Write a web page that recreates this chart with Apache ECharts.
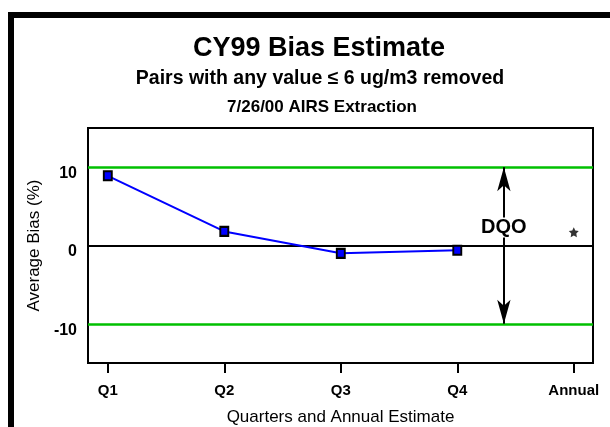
<!DOCTYPE html>
<html>
<head>
<meta charset="utf-8">
<script src="https://cdn.jsdelivr.net/npm/echarts@6/dist/echarts.min.js"></script>
<style>
html,body{margin:0;padding:0;background:#fff;}
#chart{width:610px;height:427px;}
</style>
</head>
<body>
<div id="chart"></div>
<script>
// ---- data ----
var categories = ['Q1', 'Q2', 'Q3', 'Q4', 'Annual'];
var quarterBias = [8.9, 1.8, -1.0, -0.6];
var annualBias = [1.7];
var yTickValues = [-10, 0, 10];
var dqoLimits = [10, -10];
var dqoArrowX = 4.4;
var titleLines = ['CY99 Bias Estimate', 'Pairs with any value \u2264 6 ug/m3 removed', '7/26/00 AIRS Extraction'];

var FONT = '"Liberation Sans", Arial, sans-serif';
var xVals = categories.map(function (c, i) { return i + 1; });
var quarterData = quarterBias.map(function (v, i) { return [xVals[i], v]; });
var annualData = annualBias.map(function (v) { return [xVals[4], v]; });

var chart = echarts.init(document.getElementById('chart'), null, { renderer: 'canvas' });
var star = 'path://M0,-10 L2.9,-4 9.5,-3.1 4.8,1.5 5.9,8.1 0,5 -5.9,8.1 -4.8,1.5 -9.5,-3.1 -2.9,-4 Z';

chart.setOption({
  animation: false,
  backgroundColor: '#fff',
  textStyle: { fontFamily: FONT },
  grid: { left: 88, right: 17, top: 128, bottom: 64, outerBoundsMode: 'none', containLabel: false, show: true, borderColor: '#000', borderWidth: 2, backgroundColor: 'transparent' },
  graphic: [
    { type: 'rect', shape: { x: 8, y: 12, width: 602, height: 6 }, style: { fill: '#000' } },
    { type: 'rect', shape: { x: 8, y: 12, width: 6, height: 415 }, style: { fill: '#000' } },
    { type: 'text', x: 319, y: 49, style: { text: titleLines[0], font: 'bold 27px ' + FONT, fill: '#000', align: 'center', verticalAlign: 'middle' } },
    { type: 'text', x: 320, y: 79, style: { text: titleLines[1], font: 'bold 19.5px ' + FONT, fill: '#000', align: 'center', verticalAlign: 'middle' } },
    { type: 'text', x: 322, y: 107, style: { text: titleLines[2], font: 'bold 17px ' + FONT, fill: '#000', align: 'center', verticalAlign: 'middle' } }
  ],
  xAxis: {
    type: 'value', min: 0.83, max: 5.165,
    name: 'Quarters and Annual Estimate', nameLocation: 'middle', nameGap: 46,
    nameTextStyle: { fontSize: 17, color: '#000', fontFamily: FONT },
    axisLine: { show: false, onZero: false },
    axisTick: { show: true, inside: false, length: 10, customValues: xVals, lineStyle: { color: '#000', width: 2 } },
    axisLabel: { customValues: xVals, margin: 20, fontSize: 15, fontWeight: 'bold', color: '#000', fontFamily: FONT,
      formatter: function (v) { return categories[Math.round(v) - 1] || ''; } },
    splitLine: { show: false }
  },
  yAxis: {
    type: 'value', min: -15, max: 15,
    name: 'Average Bias (%)', nameLocation: 'middle', nameGap: 43, nameRotate: 90,
    nameTextStyle: { fontSize: 17, color: '#000', fontFamily: FONT },
    axisLine: { show: false, onZero: false },
    axisTick: { show: false },
    axisLabel: { customValues: yTickValues, margin: 11, fontSize: 16, fontWeight: 'bold', color: '#000', fontFamily: FONT, verticalAlign: 'top', lineHeight: 13 },
    splitLine: { show: false }
  },
  series: [
    {
      type: 'line', name: 'Quarterly', data: quarterData, z: 4,
      symbol: 'rect', symbolSize: [8, 9],
      itemStyle: { color: '#0000ff', borderColor: '#000', borderWidth: 2 },
      lineStyle: { color: '#0000ff', width: 2 },
      markLine: {
        silent: true, symbol: ['none', 'none'], animation: false, z: 3,
        label: { show: false },
        data: [
          { yAxis: dqoLimits[0], lineStyle: { color: '#00c000', width: 2.5, type: 'solid' } },
          { yAxis: dqoLimits[1], lineStyle: { color: '#00c000', width: 2.5, type: 'solid' } },
          { yAxis: 0, lineStyle: { color: '#000', width: 2, type: 'solid' } },
          [
            { coord: [dqoArrowX, dqoLimits[0]], symbol: 'arrow', symbolSize: [10, 24], lineStyle: { color: '#000', width: 2, type: 'solid' } },
            { coord: [dqoArrowX, dqoLimits[1]], symbol: 'arrow', symbolSize: [10, 24] }
          ]
        ]
      }
    },
    {
      type: 'scatter', name: 'Annual', data: annualData, z: 6,
      symbol: star, symbolSize: 10,
      itemStyle: { color: '#000' },
      markPoint: {
        silent: true, z: 10, symbol: 'rect', symbolSize: 0,
        data: [{ coord: [dqoArrowX, 2.3] }],
        label: { show: true, position: 'inside', formatter: 'DQO', fontSize: 20, fontWeight: 'bold', color: '#000', fontFamily: FONT, backgroundColor: '#fff', padding: [0, 1, 0, 1] }
      }
    }
  ]
});
</script>
</body>
</html>
